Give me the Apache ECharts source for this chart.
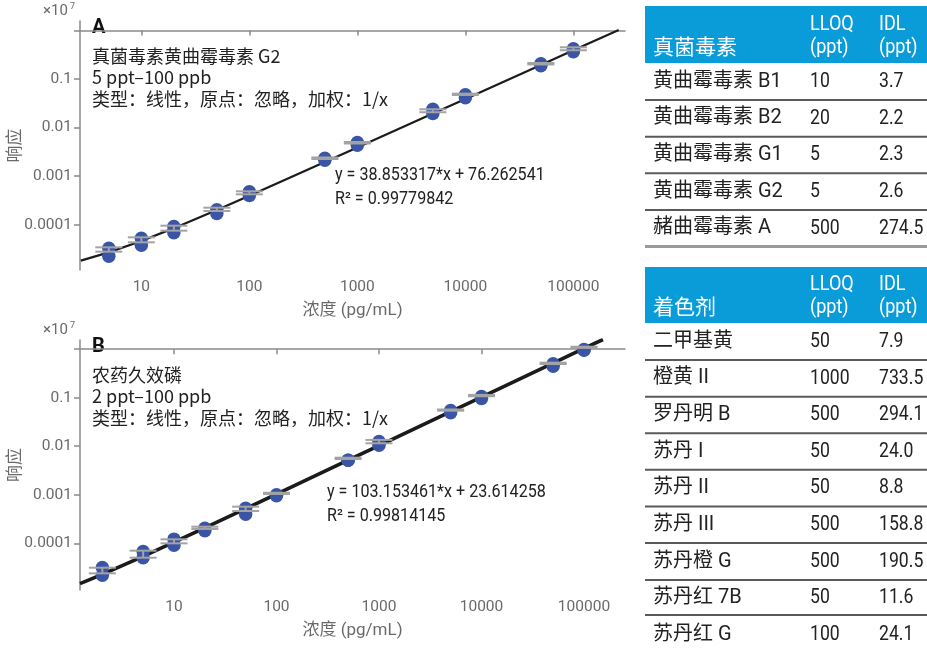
<!DOCTYPE html>
<html>
<head>
<meta charset="utf-8">
<script src="https://cdn.jsdelivr.net/npm/echarts@6/dist/echarts.min.js"></script>
<style>
  html, body { margin: 0; padding: 0; background: #ffffff; }
  #chart { width: 927px; height: 648px; }
</style>
</head>
<body>
<div id="chart"></div>
<script>
// ---- Calibration A: 真菌毒素黄曲霉毒素 G2 (response in units of 10^7) ----
const concA   = [5, 10, 20, 50, 100, 500, 1000, 5000, 10000, 50000, 100000];
const repHiA  = [3.30e-5, 5.30e-5, 9.23e-5, 2.04e-4, 4.78e-4, 2.34e-3, 4.93e-3, 2.39e-2, 4.73e-2, 0.2056, 0.418];
const repLoA  = [2.26e-5, 3.80e-5, 6.84e-5, 1.71e-4, 4.01e-4, 2.13e-3, 4.34e-3, 1.95e-2, 4.10e-2, 0.187, 0.363];
const errHiA  = [3.44e-5, 5.53e-5, 9.59e-5, 2.25e-4, 4.89e-4, 2.43e-3, 5.06e-3, 2.38e-2, 4.99e-2, 0.213, 0.449];
const errLoA  = [2.80e-5, 4.36e-5, 7.57e-5, 1.92e-4, 4.24e-4, 2.26e-3, 4.71e-3, 2.07e-2, 4.69e-2, 0.199, 0.390];
const fitA    = { slope: 38.853317, intercept: 76.262541, r2: 0.99779842 };
const fitSpanA = [2.75, 263000];

// ---- Calibration B: 农药久效磷 ----
const concB   = [2, 5, 10, 20, 50, 100, 500, 1000, 5000, 10000, 50000, 100000];
const repHiB  = [3.18e-5, 6.79e-5, 1.22e-4, 2.05e-4, 5.30e-4, 1.00e-3, 5.14e-3, 1.25e-2, 5.45e-2, 0.106, 0.499, 0.984];
const repLoB  = [2.21e-5, 5.04e-5, 9.16e-5, 1.82e-4, 3.98e-4, 9.53e-4, 5.14e-3, 1.05e-2, 4.89e-2, 0.0963, 0.446, 0.951];
const errHiB  = [3.15e-5, 7.06e-5, 1.21e-4, 2.20e-4, 5.69e-4, 1.10e-3, 5.81e-3, 1.35e-2, 5.71e-2, 0.114, 0.526, 1.12];
const errLoB  = [2.41e-5, 5.06e-5, 1.00e-4, 1.98e-4, 4.64e-4, 1.04e-3, 5.46e-3, 1.15e-2, 5.40e-2, 0.107, 0.494, 1.06];
const fitB    = { slope: 103.153461, intercept: 23.614258, r2: 0.99814145 };
const fitSpanB = [1.21, 153000];

// ---- Axis ticks ----
const xTickValues = [10, 100, 1000, 10000, 100000];
const xTickLabels = ['10', '100', '1000', '10000', '100000'];
const yTickValues = [0.0001, 0.001, 0.01, 0.1, 1];
const yLabelValues = [0.0001, 0.001, 0.01, 0.1];
const yTickLabels = ['0.0001', '0.001', '0.01', '0.1'];
const responseScale = 1e7;

// ---- Tables ----
const mycoHeader  = ['真菌毒素', 'LLOQ\n(ppt)', 'IDL\n(ppt)'];
const mycoNames   = ['黄曲霉毒素 B1', '黄曲霉毒素 B2', '黄曲霉毒素 G1', '黄曲霉毒素 G2', '赭曲霉毒素 A'];
const mycoLLOQ    = ['10', '20', '5', '5', '500'];
const mycoIDL     = ['3.7', '2.2', '2.3', '2.6', '274.5'];
const dyeHeader   = ['着色剂', 'LLOQ\n(ppt)', 'IDL\n(ppt)'];
const dyeNames    = ['二甲基黄', '橙黄 II', '罗丹明 B', '苏丹 I', '苏丹 II', '苏丹 III', '苏丹橙 G', '苏丹红 7B', '苏丹红 G'];
const dyeLLOQ     = ['50', '1000', '500', '50', '50', '500', '500', '50', '100'];
const dyeIDL      = ['7.9', '733.5', '294.1', '24.0', '8.8', '158.8', '190.5', '11.6', '24.1'];

const LATIN = "Roboto, 'Noto Sans CJK SC', sans-serif";
const CJK = "'Noto Sans CJK SC', 'Noto Sans', sans-serif";
const AXIS_GREY = '#8a8a8a';
const LABEL_GREY = '#6a6a6a';
const DOT_BLUE = '#3b55a6';
const BAR_GREY = '#a3a3a3';
const HEAD_BLUE = '#0a9bd9';

const lg = Math.log10;

function pointSeries(conc, hi, lo, gridIdx) {
  const pts = [];
  conc.forEach((c, i) => {
    pts.push([lg(c), lg(lo[i])]);
    pts.push([lg(c), lg(hi[i])]);
  });
  return {
    type: 'scatter', xAxisIndex: gridIdx, yAxisIndex: gridIdx,
    data: pts, symbol: 'circle', symbolSize: 13.5,
    itemStyle: { color: DOT_BLUE, opacity: 1 }, z: 3, silent: true
  };
}

function errorSeries(conc, hi, lo, gridIdx) {
  return {
    type: 'custom', xAxisIndex: gridIdx, yAxisIndex: gridIdx, z: 4, silent: true,
    data: conc.map((c, i) => [lg(c), lg(lo[i]), lg(hi[i])]),
    renderItem: function (params, api) {
      const top = api.coord([api.value(0), api.value(2)]);
      const bot = api.coord([api.value(0), api.value(1)]);
      const hw = 13.5;
      const st = { stroke: BAR_GREY, lineWidth: 2 };
      return {
        type: 'group',
        children: [
          { type: 'line', shape: { x1: top[0], y1: top[1], x2: bot[0], y2: bot[1] }, style: st },
          { type: 'line', shape: { x1: top[0] - hw, y1: top[1], x2: top[0] + hw, y2: top[1] }, style: st },
          { type: 'line', shape: { x1: bot[0] - hw, y1: bot[1], x2: bot[0] + hw, y2: bot[1] }, style: st }
        ]
      };
    }
  };
}

// regression line y = slope*x + intercept, evaluated at the calibration levels and span ends
function fitSeries(fit, conc, span, gridIdx, width) {
  const xs = [span[0]].concat(conc, [span[1]]);
  return {
    type: 'line', xAxisIndex: gridIdx, yAxisIndex: gridIdx, z: 2, silent: true,
    showSymbol: false, smooth: false,
    data: xs.map(x => [lg(x), lg((fit.slope * x + fit.intercept) / responseScale)]),
    lineStyle: { color: '#1b1b1b', width: width }
  };
}

function xAxisFor(gridIdx, min, max) {
  return {
    type: 'value', gridIndex: gridIdx, min: min, max: max,
    name: '浓度 (pg/mL)', nameLocation: 'middle', nameGap: 32, nameMoveOverlap: false,
    nameTextStyle: { color: LABEL_GREY, fontSize: 17, fontFamily: LATIN },
    axisLine: { lineStyle: { color: AXIS_GREY, width: 1.5 } },
    axisTick: { show: true, length: 5, customValues: xTickValues.map(lg), lineStyle: { color: AXIS_GREY, width: 1.5 } },
    axisLabel: {
      customValues: xTickValues.map(lg), margin: 9, color: LABEL_GREY, fontSize: 15.5, fontFamily: LATIN,
      formatter: v => xTickLabels[xTickValues.findIndex(t => Math.abs(lg(t) - v) < 1e-6)]
    },
    splitLine: { show: false }
  };
}

function yAxisFor(gridIdx, min, max) {
  return {
    type: 'value', gridIndex: gridIdx, min: min, max: max,
    name: '响应', nameLocation: 'middle', nameGap: 58, nameRotate: 90, nameMoveOverlap: false,
    nameTextStyle: { color: LABEL_GREY, fontSize: 17, fontFamily: CJK },
    axisLine: { lineStyle: { color: AXIS_GREY, width: 1.5 } },
    axisTick: { show: true, length: 6, customValues: yTickValues.map(lg), lineStyle: { color: AXIS_GREY, width: 1.5 } },
    axisLabel: {
      customValues: yLabelValues.map(lg), margin: 8, color: LABEL_GREY, fontSize: 15.5, fontFamily: LATIN,
      formatter: v => yTickLabels[yLabelValues.findIndex(t => Math.abs(lg(t) - v) < 1e-6)]
    },
    splitLine: { show: false }
  };
}

function txt(x, y, text, font, fill, sx) {
  return { type: 'text', x: x, y: y, scaleX: sx || 1, silent: true,
    style: { text: text, font: font, fill: fill || '#222', align: 'left', verticalAlign: 'middle' } };
}

function panelText(top, letter, lines, eqX, eqY, fit) {
  const g = [];
  g.push(txt(43, top - 10, '×10', '15px ' + LATIN, LABEL_GREY));
  g.push(txt(70, top - 14, '7', '9px ' + LATIN, LABEL_GREY));
  g.push(txt(92, top + 7, letter, 'bold 20px ' + LATIN, '#111'));
  lines.forEach((s, i) => g.push(txt(92, top + 35 + i * 21.5, s, '18px ' + CJK, '#222')));
  g.push(txt(eqX, eqY, 'y = ' + fit.slope.toFixed(6) + '*x + ' + fit.intercept.toFixed(6), '17.5px ' + LATIN, '#222', 0.92));
  g.push(txt(eqX, eqY + 23.5, 'R² = ' + fit.r2.toFixed(8), '17.5px ' + LATIN, '#222', 0.92));
  return g;
}

function table(top, header, names, lloq, idl, rowTops, lastLine) {
  const g = [];
  const X0 = 645, X1 = 927, C1 = 653, C2 = 810, C3 = 879;
  const headBottom = rowTops[0];
  const NUM = '21px ' + LATIN;
  g.push({ type: 'rect', silent: true, shape: { x: X0, y: top, width: X1 - X0, height: headBottom - top }, style: { fill: HEAD_BLUE } });
  g.push(txt(C1, headBottom - 17, header[0], '21px ' + CJK, '#ffffff'));
  const h1 = header[1].split('\n'), h2 = header[2].split('\n');
  g.push(txt(C2, headBottom - 38, h1[0], NUM, '#ffffff', 0.86));
  g.push(txt(C2, headBottom - 15, h1[1], NUM, '#ffffff', 0.86));
  g.push(txt(C3, headBottom - 38, h2[0], NUM, '#ffffff', 0.86));
  g.push(txt(C3, headBottom - 15, h2[1], NUM, '#ffffff', 0.86));
  names.forEach((n, i) => {
    const yTop = rowTops[i];
    const yBot = rowTops[i + 1];
    const cy = (yTop + yBot) / 2;
    g.push(txt(C1, cy, n, '20px ' + LATIN, '#222'));
    g.push(txt(C2, cy, lloq[i], NUM, '#222', 0.84));
    g.push(txt(C3, cy, idl[i], NUM, '#222', 0.84));
    if (i < names.length - 1 || lastLine) {
      const last = i === names.length - 1;
      g.push({ type: 'line', silent: true, shape: { x1: X0, y1: yBot, x2: X1, y2: yBot },
        style: { stroke: last ? '#9a9a9a' : '#5a5a5a', lineWidth: last ? 3 : 2 } });
    }
  });
  return g;
}

const rowTopsMyco = [63, 100, 136.7, 173.3, 210, 246.5];
const rowTopsDye = [323, 360, 396.7, 433.3, 469.7, 506.5, 543, 580, 615, 654];

const chart = echarts.init(document.getElementById('chart'), null, { renderer: 'canvas' });

const option = {
  animation: false,
  backgroundColor: '#ffffff',
  grid: [
    { left: 80, top: 21, width: 545, height: 249, outerBoundsMode: 'none', containLabel: false },
    { left: 80, top: 340, width: 545, height: 250, outerBoundsMode: 'none', containLabel: false }
  ],
  xAxis: [ xAxisFor(0, 0.432, 5.478), xAxisFor(1, 0.083, 5.40) ],
  yAxis: [ yAxisFor(0, -4.93, 0.193), yAxisFor(1, -4.961, 0.188) ],
  series: [
    fitSeries(fitA, concA, fitSpanA, 0, 2.2),
    pointSeries(concA, repHiA, repLoA, 0),
    errorSeries(concA, errHiA, errLoA, 0),
    fitSeries(fitB, concB, fitSpanB, 1, 3.6),
    pointSeries(concB, repHiB, repLoB, 1),
    errorSeries(concB, errHiB, errLoB, 1)
  ],
  graphic: [].concat(
    panelText(21, 'A', ['真菌毒素黄曲霉毒素 G2', '5 ppt–100 ppb', '类型：线性，原点：忽略，加权：1/x'], 335, 176, fitA),
    panelText(340, 'B', ['农药久效磷', '2 ppt–100 ppb', '类型：线性，原点：忽略，加权：1/x'], 327, 493, fitB),
    table(6, mycoHeader, mycoNames, mycoLLOQ, mycoIDL, rowTopsMyco, true),
    table(267, dyeHeader, dyeNames, dyeLLOQ, dyeIDL, rowTopsDye, false)
  )
};

chart.setOption(option);
</script>
</body>
</html>
